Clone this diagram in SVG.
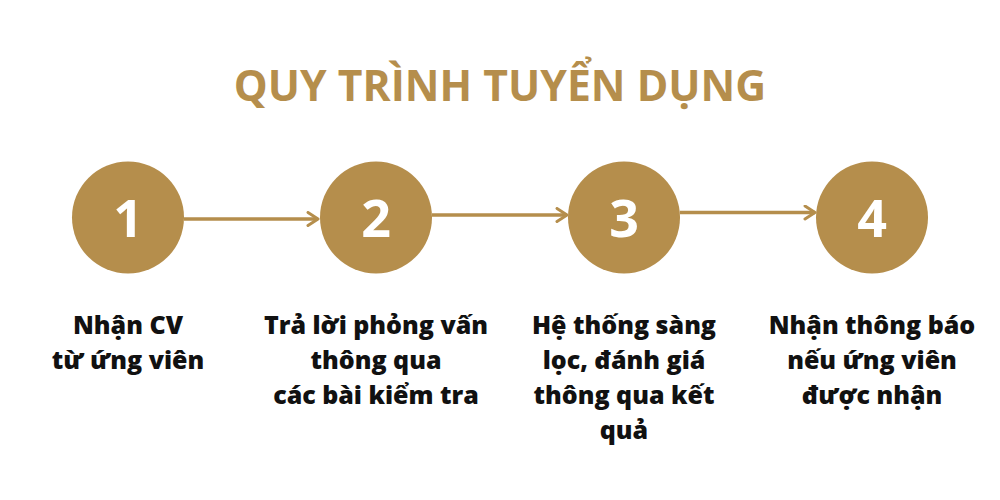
<svg xmlns="http://www.w3.org/2000/svg" width="1000" height="500" viewBox="0 0 1000 500">
<defs>
<style>
.c{fill:#B58E4C}
.num{font-family:"Open Sans","Noto Sans",sans-serif;font-weight:700;font-size:52px;fill:#fff;text-anchor:middle}
.lbl{font-family:"Open Sans","Noto Sans",sans-serif;font-weight:800;font-size:25px;fill:#111;text-anchor:middle}
.title{font-family:"Open Sans","Noto Sans",sans-serif;font-weight:700;font-size:42.7px;fill:#B58E4C;text-anchor:middle}
.conn{stroke:#B58E4C;stroke-width:3.5;fill:none}
</style>
<marker id="arr" viewBox="0 0 16 16" refX="13" refY="8" markerWidth="16" markerHeight="16" markerUnits="userSpaceOnUse" orient="auto">
<path d="M3,1.5 L13,8 L3,14.5" fill="none" stroke="#B58E4C" stroke-width="3" stroke-linecap="round" stroke-linejoin="round"/>
</marker>
</defs>
<rect width="1000" height="500" fill="#fff"/>
<text class="title" x="500" y="101">QUY TRÌNH TUYỂN DỤNG</text>
<g id="connectors">
<line class="conn" x1="184" y1="219" x2="318" y2="219" marker-end="url(#arr)"/>
<line class="conn" x1="432" y1="215" x2="567" y2="215" marker-end="url(#arr)"/>
<line class="conn" x1="680" y1="212.5" x2="815" y2="212.5" marker-end="url(#arr)"/>
</g>
<g id="step1">
<circle class="c" cx="128" cy="217.5" r="56"/>
<text class="num" x="128" y="237">1</text>
<text class="lbl" x="128" y="334">Nhận CV</text>
<text class="lbl" x="128" y="369">từ ứng viên</text>
</g>
<g id="step2">
<circle class="c" cx="376" cy="217.5" r="56"/>
<text class="num" x="376" y="237">2</text>
<text class="lbl" x="376" y="334">Trả lời phỏng vấn</text>
<text class="lbl" x="376" y="369">thông qua</text>
<text class="lbl" x="376" y="404">các bài kiểm tra</text>
</g>
<g id="step3">
<circle class="c" cx="624" cy="217.5" r="56"/>
<text class="num" x="624" y="237">3</text>
<text class="lbl" x="624" y="334">Hệ thống sàng</text>
<text class="lbl" x="624" y="369">lọc, đánh giá</text>
<text class="lbl" x="624" y="404">thông qua kết</text>
<text class="lbl" x="624" y="439">quả</text>
</g>
<g id="step4">
<circle class="c" cx="872" cy="217.5" r="56"/>
<text class="num" x="872" y="237">4</text>
<text class="lbl" x="872" y="334">Nhận thông báo</text>
<text class="lbl" x="872" y="369">nếu ứng viên</text>
<text class="lbl" x="872" y="404">được nhận</text>
</g>
</svg>
